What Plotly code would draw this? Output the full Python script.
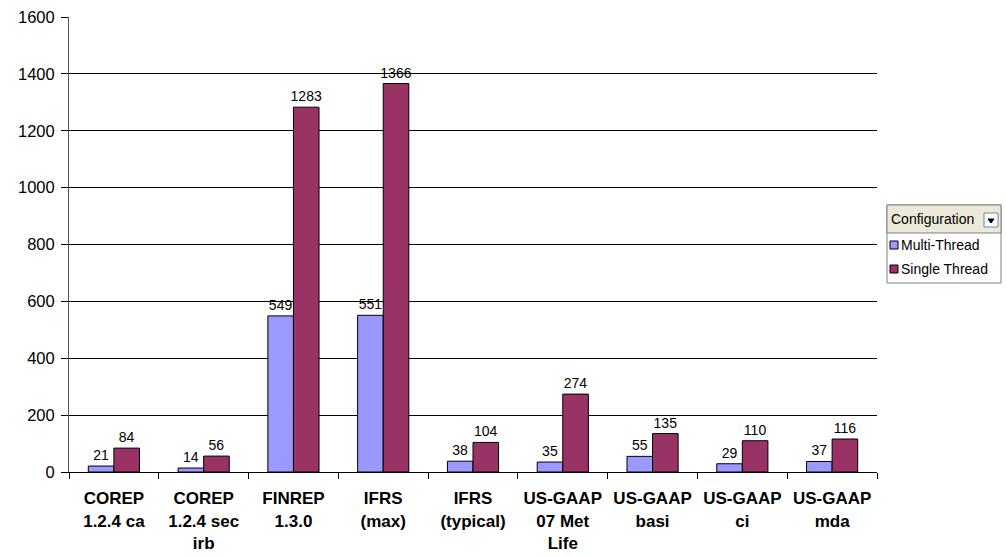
import plotly.graph_objects as go

categories = ["COREP<br>1.2.4 ca", "COREP<br>1.2.4 sec<br>irb", "FINREP<br>1.3.0", "IFRS<br>(max)",
              "IFRS<br>(typical)", "US-GAAP<br>07 Met<br>Life", "US-GAAP<br>basi", "US-GAAP<br>ci", "US-GAAP<br>mda"]
multi_thread = [21, 14, 549, 551, 38, 35, 55, 29, 37]
single_thread = [84, 56, 1283, 1366, 104, 274, 135, 110, 116]
y_ticks = [0, 200, 400, 600, 800, 1000, 1200, 1400, 1600]

BLUE = "#9999FF"
RED = "#993366"
FONT = "Liberation Sans, Arial, sans-serif"

W, H = 1006, 556
ML, MR, MT, MB = 69, 129, 17, 84

fig = go.Figure()
for name, vals, col in [("Multi-Thread", multi_thread, BLUE), ("Single Thread", single_thread, RED)]:
    fig.add_trace(go.Bar(
        x=categories, y=vals, name=name, marker=dict(color=col, line=dict(color="black", width=1)),
        text=[str(v) for v in vals], textposition="outside", cliponaxis=False, constraintext="none",
        textfont=dict(family=FONT, size=14, color="black"), showlegend=False,
    ))

fig.update_layout(
    width=W, height=H, margin=dict(l=ML, r=MR, t=MT, b=MB, autoexpand=False),
    paper_bgcolor="white", plot_bgcolor="white",
    barmode="group", bargap=0.43, bargroupgap=0,
    font=dict(family=FONT, size=14, color="black"),
)
fig.update_yaxes(range=[0, 1600], tickvals=y_ticks, showgrid=True, gridcolor="black", gridwidth=1,
                 ticks="outside", ticklen=7, tickcolor="black", showline=True, linecolor="#555555",
                 linewidth=1, zeroline=False, automargin=False, ticklabelstandoff=3,
                 tickfont=dict(family=FONT, size=16.5, color="black"))
fig.update_xaxes(tickson="boundaries", ticks="outside", ticklen=6, tickcolor="black",
                 showline=True, linecolor="black", linewidth=1, automargin=False,
                 ticklabelstandoff=11,
                 tickvals=categories,
                 ticktext=["<b>" + c.replace("<br>", "</b><br><b>") + "</b>" for c in categories],
                 tickfont=dict(family=FONT, size=17, color="black"))

# Legend box drawn manually (Excel pivot style), pixel -> plot-area paper coords
PW, PH = W - ML - MR, H - MT - MB
def px(x): return (x - ML) / PW
def py(y): return (H - MB - y) / PH

x0, x1 = 887, 1001
y_top, y_head, y_bot = 205, 233, 283
shapes = [
    dict(type="rect", xref="paper", yref="paper", x0=px(x0), x1=px(x1), y0=py(y_bot), y1=py(y_top),
         fillcolor="white", line=dict(color="#808080", width=1)),
    dict(type="rect", xref="paper", yref="paper", x0=px(x0), x1=px(x1), y0=py(y_head), y1=py(y_top),
         fillcolor="#ECE9D8", line=dict(color="#808080", width=1)),
    dict(type="rect", xref="paper", yref="paper", x0=px(984), x1=px(998), y0=py(227), y1=py(213),
         fillcolor="white", line=dict(color="#6B84B5", width=1)),
    dict(type="path", xref="paper", yref="paper",
         path=f"M {px(988)} {py(219)} L {px(994)} {py(219)} L {px(991)} {py(223)} Z",
         fillcolor="black", line=dict(color="black", width=1)),
    dict(type="rect", xref="paper", yref="paper", x0=px(890), x1=px(898), y0=py(249), y1=py(241),
         fillcolor=BLUE, line=dict(color="black", width=1)),
    dict(type="rect", xref="paper", yref="paper", x0=px(890), x1=px(898), y0=py(273), y1=py(265),
         fillcolor=RED, line=dict(color="black", width=1)),
]
fig.update_layout(shapes=shapes)
ann = [
    dict(text="Configuration", x=px(889), y=py(219), xanchor="left", yanchor="middle"),
    dict(text="Multi-Thread", x=px(899), y=py(245), xanchor="left", yanchor="middle"),
    dict(text="Single Thread", x=px(899), y=py(269), xanchor="left", yanchor="middle"),
]
for a in ann:
    fig.add_annotation(xref="paper", yref="paper", showarrow=False,
                       font=dict(family=FONT, size=14, color="black"), **a)

fig.write_html("out.html")
